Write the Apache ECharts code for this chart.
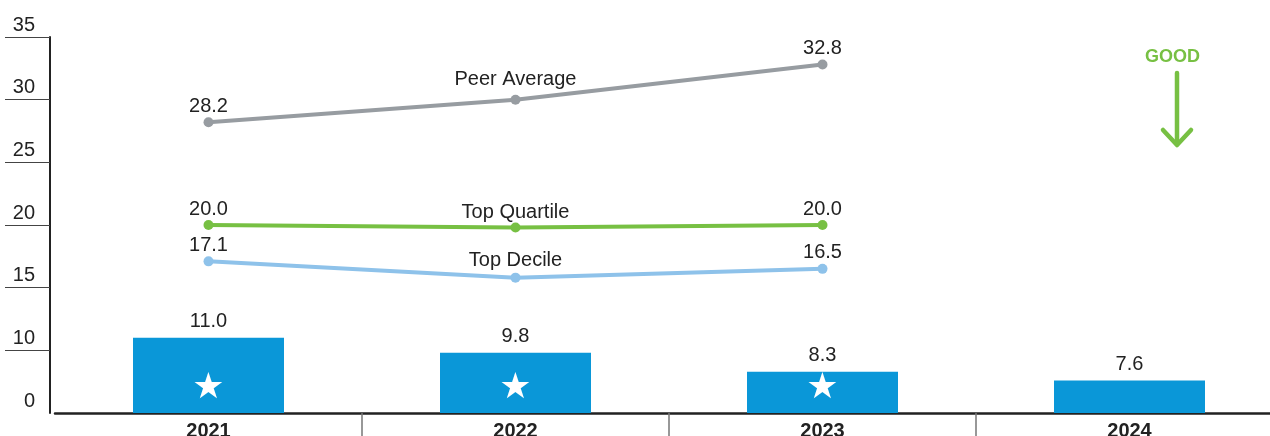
<!DOCTYPE html>
<html>
<head>
<meta charset="utf-8">
<script src="https://cdn.jsdelivr.net/npm/echarts@6/dist/echarts.min.js"></script>
<style>
  html, body { margin: 0; padding: 0; background: #fff; }
  #chart { width: 1270px; height: 436px; }
</style>
</head>
<body>
<div id="chart"></div>
<script>
// categories and values
const years = ["2021", "2022", "2023", "2024"];
const companyValues = [11.0, 9.8, 8.3, 7.6];
const starred = [true, true, true, false];
const peerAverage = [28.2, 30.0, 32.8, null];
const topQuartile = [20.0, 19.8, 20.0, null];
const topDecile = [17.1, 15.8, 16.5, null];
// y axis: bottom tick is shown as 0 (broken axis)
const tickValues = [10, 15, 20, 25, 30, 35];
const labelValues = [5, 10, 15, 20, 25, 30, 35];

const font = "'Liberation Sans', Arial, sans-serif";
const textColor = "#222";

// middle point carries the series name, the ends carry the value
function lineSeries(name, values, color, nameDistance) {
  return {
    name: name,
    type: "line",
    z: 5,
    symbol: "circle",
    symbolSize: 10,
    lineStyle: { color: color, width: 4 },
    itemStyle: { color: color },
    label: {
      show: true,
      position: "top",
      distance: 1,
      fontFamily: font,
      fontSize: 20,
      color: textColor,
      formatter: function (p) {
        return p.dataIndex === 1 ? p.seriesName : p.value.toFixed(1);
      }
    },
    data: values.map(function (v, i) {
      return i === 1 ? { value: v, label: { distance: nameDistance } } : v;
    })
  };
}

const chart = echarts.init(document.getElementById("chart"));
chart.setOption({
  animation: false,
  backgroundColor: "#fff",
  grid: { left: 55, right: -13, top: 37, bottom: 23, outerBoundsMode: "none", containLabel: false },
  xAxis: {
    type: "category",
    data: years,
    axisLine: { lineStyle: { color: "#222", width: 2.5 } },
    axisTick: {
      show: true,
      length: 24,
      lineStyle: { color: "#777", width: 1.5 },
      interval: function (i) { return i > 0; }
    },
    axisLabel: {
      margin: 8,
      fontFamily: font,
      fontSize: 20,
      fontWeight: "bold",
      color: textColor
    }
  },
  yAxis: {
    type: "value",
    min: 5,
    max: 35,
    interval: 5,
    offset: 5,
    splitLine: { show: false },
    axisLine: { show: true, lineStyle: { color: "#222", width: 2 } },
    axisTick: {
      show: true,
      length: 45,
      customValues: tickValues,
      lineStyle: { color: "#444", width: 1 }
    },
    axisLabel: {
      customValues: labelValues,
      margin: 15,
      verticalAlign: "bottom",
      padding: [0, 0, 2, 0],
      fontFamily: font,
      fontSize: 20,
      color: textColor,
      formatter: function (v) { return v === 5 ? "0" : String(v); }
    }
  },
  series: [
    {
      name: "Company",
      type: "bar",
      data: companyValues,
      barWidth: 151,
      itemStyle: { color: "#0a97d8" },
      label: {
        show: true,
        position: "top",
        distance: 6,
        fontFamily: font,
        fontSize: 20,
        color: textColor,
        formatter: function (p) { return p.value.toFixed(1); }
      }
    },
    {
      name: "Star",
      type: "bar",
      data: companyValues,
      barWidth: 151,
      barGap: "-100%",
      silent: true,
      itemStyle: { color: "transparent" },
      label: {
        show: true,
        position: "insideBottom",
        distance: 6,
        fontFamily: "'DejaVu Sans', sans-serif",
        fontSize: 36,
        color: "#fff",
        formatter: function (p) { return starred[p.dataIndex] ? "★" : ""; }
      }
    },
    lineSeries("Peer Average", peerAverage, "#979ca1", 5),
    lineSeries("Top Quartile", topQuartile, "#77c043", 0),
    lineSeries("Top Decile", topDecile, "#8ec2ea", 2)
  ],
  graphic: [
    {
      type: "text",
      left: 1145,
      top: 48,
      style: {
        text: "GOOD",
        fontFamily: font,
        fontSize: 18,
        fontWeight: "bold",
        fill: "#77c043"
      }
    },
    {
      type: "polyline",
      shape: { points: [[1177, 73], [1177, 144]] },
      style: { stroke: "#77c043", lineWidth: 4.5, lineCap: "round", fill: null }
    },
    {
      type: "polyline",
      shape: { points: [[1163, 130], [1177, 145], [1191, 130]] },
      style: { stroke: "#77c043", lineWidth: 4.5, lineCap: "round", lineJoin: "round", fill: null }
    }
  ]
});
</script>
</body>
</html>
